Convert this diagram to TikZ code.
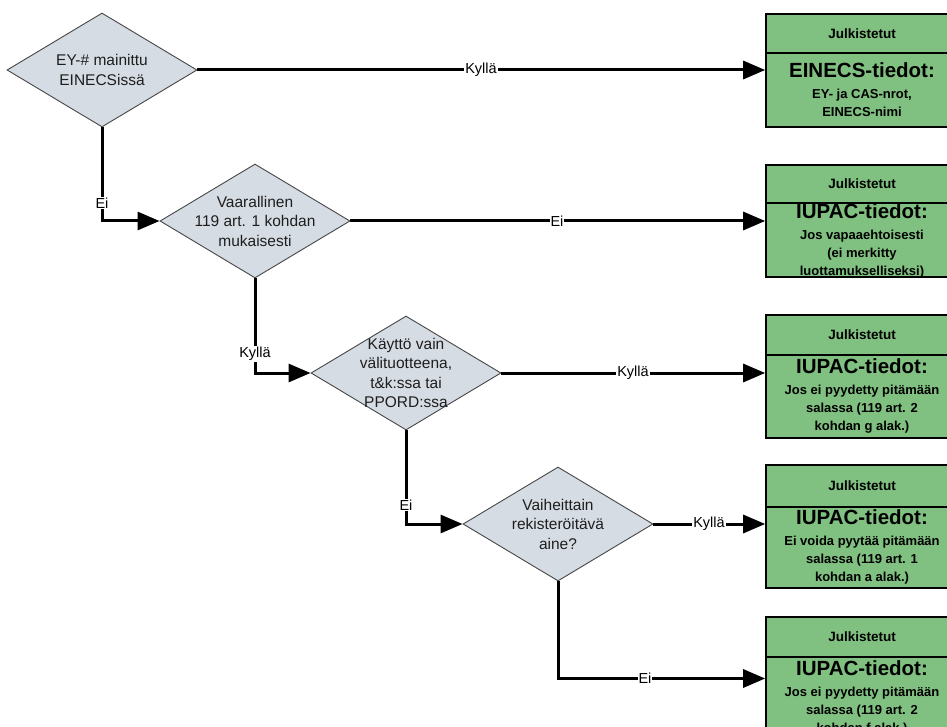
\documentclass[tikz,border=0pt]{standalone}
\usepackage{fontspec}
\setmainfont{Liberation Sans}
\usetikzlibrary{shapes.geometric,arrows.meta}
\definecolor{dfill}{RGB}{214,220,228}
\definecolor{gfill}{RGB}{128,192,128}
\definecolor{dline}{RGB}{70,70,70}
\definecolor{dtxt}{RGB}{30,30,30}
\newcommand{\ttlfont}{\fontsize{20.5}{22}\selectfont}
\begin{document}
\begin{tikzpicture}[x=1pt,y=-1pt,
  dia/.style={diamond, draw=dline, fill=dfill, line width=0.9pt,
    minimum width=190pt, minimum height=114pt, inner sep=0pt},
  dtext/.style={align=center, font=\fontsize{15.5}{19.5}\selectfont, text=dtxt, inner sep=0pt},
  gbox/.style={draw=black, fill=gfill, line width=1.6pt, minimum width=192pt, inner sep=0pt},
  hline/.style={draw=black, line width=1.6pt},
  htext/.style={font=\bfseries\fontsize{13.5}{15}\selectfont, inner sep=0pt},
  btext/.style={align=center, font=\bfseries\fontsize{13}{18}\selectfont, inner sep=0pt},
  conn/.style={line width=3pt, -{Triangle[length=22pt,width=18pt]}},
  lab/.style={fill=white, font=\fontsize{14.5}{16}\selectfont, inner sep=1pt}]
\useasboundingbox (0,0) rectangle (947,727);
\clip (0,0) rectangle (947,727);
\fill[white] (0,0) rectangle (947,727);

% decisions
\node[dia] (d1) at (102,70) {};
\node[dtext] (t1) at (d1) {EY-\# mainittu\\EINECSissä};
\node[dia] (d2) at (255,221) {};
\node[dtext] (t2) at (d2) {Vaarallinen\\119 art. 1 kohdan\\mukaisesti};
\node[dia] (d3) at (406,373) {};
\node[dtext] (t3) at (d3) {Käyttö vain\\välituotteena,\\t\&k:ssa tai\\PPORD:ssa};
\node[dia] (d4) at (558,524) {};
\node[dtext] (t4) at (d4) {Vaiheittain\\rekisteröitävä\\aine?};

% result boxes
\node[gbox, minimum height=113pt] (b1) at (862,70.5) {};
\draw[hline] (766,53) -- (958,53);
\node[htext] (h1) at (862,33.5) {Julkistetut};
\node[btext] (c1) at (862,90) {{\ttlfont EINECS-tiedot:}\\[3pt]EY- ja CAS-nrot,\\EINECS-nimi};

\node[gbox, minimum height=112pt] (b2) at (862,221) {};
\draw[hline] (766,203) -- (958,203);
\node[htext] (h2) at (862,184) {Julkistetut};
\node[btext] (c2) at (862,241) {{\ttlfont IUPAC-tiedot:}\\[3pt]Jos vapaaehtoisesti\\(ei merkitty\\luottamukselliseksi)};

\node[gbox, minimum height=123pt] (b3) at (862,376.5) {};
\draw[hline] (766,355) -- (958,355);
\node[htext] (h3) at (862,335) {Julkistetut};
\node[btext] (c3) at (862,396) {{\ttlfont IUPAC-tiedot:}\\[3pt]Jos ei pyydetty pitämään\\salassa (119 art. 2\\kohdan g alak.)};

\node[gbox, minimum height=123pt] (b4) at (862,526.5) {};
\draw[hline] (766,507) -- (958,507);
\node[htext] (h4) at (862,486) {Julkistetut};
\node[btext] (c4) at (862,547) {{\ttlfont IUPAC-tiedot:}\\[3pt]Ei voida pyytää pitämään\\salassa (119 art. 1\\kohdan a alak.)};

\node[gbox, minimum height=123pt] (b5) at (862,678.5) {};
\draw[hline] (766,657) -- (958,657);
\node[htext] (h5) at (862,637) {Julkistetut};
\node[btext] (c5) at (862,698) {{\ttlfont IUPAC-tiedot:}\\[3pt]Jos ei pyydetty pitämään\\salassa (119 art. 2\\kohdan f alak.)};

% connectors
\draw[conn] (d1.east) -- (d1.east -| b1.west);
\draw[conn] (d1.south) |- (d2.west);
\draw[conn] (d2.east) -- (d2.east -| b2.west);
\draw[conn] (d2.south) |- (d3.west);
\draw[conn] (d3.east) -- (d3.east -| b3.west);
\draw[conn] (d3.south) |- (d4.west);
\draw[conn] (d4.east) -- (d4.east -| b4.west);
\draw[conn] (d4.south) |- (b5.west);

% labels
\node[lab] (l1) at (481,70) {Kyllä};
\node[lab] (l2) at (102,203) {Ei};
\node[lab] (l3) at (557,221) {Ei};
\node[lab] (l4) at (255,354) {Kyllä};
\node[lab] (l5) at (633,373) {Kyllä};
\node[lab] (l6) at (406,505) {Ei};
\node[lab] (l7) at (709,524) {Kyllä};
\node[lab] (l8) at (645,678.5) {Ei};
\end{tikzpicture}
\end{document}
